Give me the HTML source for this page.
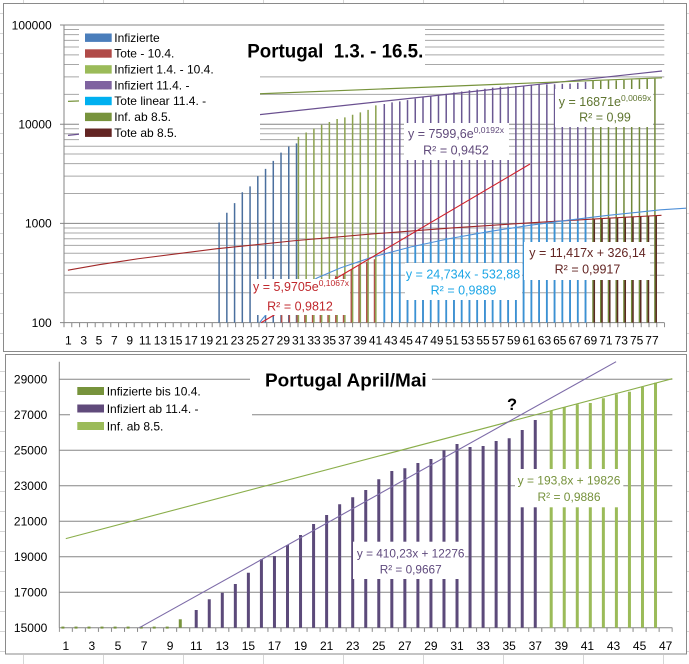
<!DOCTYPE html>
<html><head><meta charset="utf-8"><style>
html,body{margin:0;padding:0;background:#fff;}
svg{display:block;}
text{font-family:"Liberation Sans",Arial,sans-serif;}
</style></head><body>
<svg width="689" height="664" viewBox="0 0 689 664" xmlns="http://www.w3.org/2000/svg">
<defs>
<pattern id="tk1" x="63.5" y="0" width="7.8" height="20" patternUnits="userSpaceOnUse"><rect x="0" y="0" width="1" height="20" fill="#868686"/></pattern>
<pattern id="tk2" x="58.8" y="0" width="13.04" height="20" patternUnits="userSpaceOnUse"><rect x="0" y="0" width="1" height="20" fill="#868686"/></pattern>
</defs>
<rect x="0" y="0" width="689" height="664" fill="#fff"/>
<!-- spreadsheet grid -->
<path d="M23.5 0V3M103.5 0V3M183.5 0V3M263.5 0V3M343.5 0V3M423.5 0V3M503.5 0V3M583.5 0V3M663.5 0V3M23.5 655V664M103.5 655V664M183.5 655V664M263.5 655V664M343.5 655V664M423.5 655V664M503.5 655V664M583.5 655V664M663.5 655V664
M0 13.5H3M0 33.5H3M0 53.5H3M0 73.5H3M0 93.5H3M0 113.5H3M0 133.5H3M0 153.5H3M0 173.5H3M0 193.5H3M0 213.5H3M0 233.5H3M0 253.5H3M0 273.5H3M0 293.5H3M0 313.5H3M0 333.5H3M0 371.5H5M0 391.5H5M0 411.5H5M0 431.5H5M0 451.5H5M0 471.5H5M0 491.5H5M0 511.5H5M0 531.5H5M0 551.5H5M0 571.5H5M0 591.5H5M0 611.5H5M0 631.5H5M0 651.5H5
M687 13.5H689M687 33.5H689M687 53.5H689M687 73.5H689M687 93.5H689M687 113.5H689M687 133.5H689M687 153.5H689M687 173.5H689M687 193.5H689M687 213.5H689M687 233.5H689M687 253.5H689M687 273.5H689M687 293.5H689M687 313.5H689M687 333.5H689M687 371.5H689M687 391.5H689M687 411.5H689M687 431.5H689M687 451.5H689M687 471.5H689M687 491.5H689M687 511.5H689M687 531.5H689M687 551.5H689M687 571.5H689M687 591.5H689M687 611.5H689M687 631.5H689M687 651.5H689" stroke="#D6D6D6" stroke-width="1" fill="none"/>

<!-- ================= TOP CHART ================= -->
<rect x="3.5" y="3.5" width="683" height="348" fill="#fff" stroke="#8A8A8A" stroke-width="1"/>
<path d="M64 292.74H664.3M64 275.27H664.3M64 262.88H664.3M64 253.26H664.3M64 245.41H664.3M64 238.77H664.3M64 233.01H664.3M64 227.94H664.3M64 193.54H664.3M64 176.07H664.3M64 163.68H664.3M64 154.06H664.3M64 146.21H664.3M64 139.57H664.3M64 133.81H664.3M64 128.74H664.3M64 94.34H664.3M64 76.87H664.3M64 64.48H664.3M64 54.86H664.3M64 47.01H664.3M64 40.37H664.3M64 34.61H664.3M64 29.54H664.3" stroke="#A8A8A8" stroke-width="1" fill="none"/>
<path d="M60 25H664.3M60 124.2H664.3M60 223.4H664.3M60 322.6H664.3" stroke="#868686" stroke-width="1" fill="none"/>
<path d="M64 25V322.6" stroke="#868686" stroke-width="1"/>
<rect x="63.5" y="322.6" width="601.6" height="4.6" fill="url(#tk1)"/>

<!-- bars -->
<path d="M219.1 322.6V222.55M226.84 322.6V212.76M234.58 322.6V203.15M242.32 322.6V192.26M250.06 322.6V186.37M257.8 322.6V176.14M265.54 322.6V168.89M273.28 322.6V160.88M281.02 322.6V152.62M288.76 322.6V146.48M296.5 322.6V143.37" stroke="#4A6F9E" stroke-width="1.5" fill="none"/>
<path d="M281.64 322.6V315.11M289.38 322.6V308.1M297.12 322.6V302.35M304.86 322.6V295.63M312.6 322.6V290.84M320.34 322.6V283.82M328.08 322.6V280.45M335.82 322.6V275.99M343.56 322.6V273.72M351.3 322.6V269.25M359.04 322.6V265.09M366.78 322.6V261.92M374.52 322.6V259.26" stroke="#B0504A" stroke-width="1.5" fill="none"/>
<path d="M298.42 322.6V136.92M306.16 322.6V132.48M313.9 322.6V128.58M321.64 322.6V124.69M329.38 322.6V122M337.12 322.6V119.02M344.86 322.6V117.33M352.6 322.6V114.79M360.34 322.6V112.43M368.08 322.6V109.84M375.82 322.6V105.4" stroke="#8BA14E" stroke-width="1.5" fill="none"/>
<path d="M384.3 322.6V103.96M392.04 322.6V102.37M399.78 322.6V101.41M407.52 322.6V100.18M415.26 322.6V98.64M423 322.6V96.88M430.74 322.6V96.45M438.48 322.6V95.07M446.22 322.6V93.86M453.96 322.6V92.55M461.7 322.6V91.52M469.44 322.6V90.29M477.18 322.6V89.55M484.92 322.6V88.77M492.66 322.6V87.64M500.4 322.6V86.79M508.14 322.6V86.51M515.88 322.6V85.98M523.62 322.6V85.58M531.36 322.6V84.73M539.1 322.6V84.12M546.84 322.6V84.41M554.58 322.6V84.31M562.32 322.6V83.83M570.06 322.6V83.58M577.8 322.6V82.8M585.54 322.6V81.88" stroke="#6A5892" stroke-width="1.5" fill="none"/>
<path d="M384.3 322.6V255.93M392.04 322.6V252.92M399.78 322.6V250.35M407.52 322.6V247.84M415.26 322.6V245.48M423 322.6V243.37M430.74 322.6V241.5M438.48 322.6V239.57M446.22 322.6V237.91M453.96 322.6V236.66M461.7 322.6V235.11M469.44 322.6V233.83M477.18 322.6V231.95M484.92 322.6V230.2M492.66 322.6V228.91M500.4 322.6V227.8M508.14 322.6V226.62M515.88 322.6V225.7M523.62 322.6V224.58M531.36 322.6V223.88M539.1 322.6V223.1M546.84 322.6V222.42M554.58 322.6V221.59M562.32 322.6V220.77M570.06 322.6V220.32M577.8 322.6V219.73M585.54 322.6V219.1" stroke="#3A92D4" stroke-width="1.8" fill="none"/>
<path d="M593 322.6V81.04M600.74 322.6V80.71M608.48 322.6V80.47M616.22 322.6V80.36M623.96 322.6V79.95M631.7 322.6V79.6M639.44 322.6V79.38M647.18 322.6V78.98M654.92 322.6V78.62" stroke="#71893A" stroke-width="1.5" fill="none"/>
<path d="M594.3 322.6V218.75M602.04 322.6V218.29M609.78 322.6V217.94M617.52 322.6V217.6M625.26 322.6V216.89M633 322.6V216.45M640.74 322.6V216.12M648.48 322.6V215.91M656.22 322.6V215.44" stroke="#5A2A22" stroke-width="1.5" fill="none"/>

<!-- trendlines -->
<polyline points="67.9,270.19 99.1,264.72 138.1,258.74 216.1,248.81 294.1,240.74 372.1,233.95 450.1,228.09 528.1,222.92 606.1,218.31 661.5,215.3" fill="none" stroke="#A02828" stroke-width="1.1"/>
<polyline points="259.7,322.6 261.34,320.39 262.9,318.41 266.8,313.83 270.7,309.69 278.5,302.44 286.3,296.23 294.1,290.81 317.5,277.73 340.9,267.71 372.1,257.18 411.1,246.85 450.1,238.52 489.1,231.55 528.1,225.55 567.1,220.29 606.1,215.6 660.7,209.79 686,208.2" fill="none" stroke="#4F90D8" stroke-width="1.1"/>
<line x1="261.2" y1="322.6" x2="530" y2="164" stroke="#D0202A" stroke-width="1.1"/>
<line x1="68" y1="135.4" x2="662" y2="71" stroke="#6A5090" stroke-width="1.2"/>
<line x1="68" y1="101.4" x2="662" y2="77.8" stroke="#77933C" stroke-width="1.2"/>

<!-- legend & title boxes -->
<rect x="79" y="27" width="181" height="115" fill="#fff"/>
<rect x="79" y="27" width="346" height="45" fill="#fff"/>
<rect x="85" y="33.5" width="26.7" height="8.4" fill="#4A7EBB"/>
<rect x="85" y="49.3" width="26.7" height="8.4" fill="#B04A48"/>
<rect x="85" y="65.2" width="26.7" height="8.4" fill="#9BBB59"/>
<rect x="85" y="81" width="26.7" height="8.4" fill="#7F63A0"/>
<rect x="85" y="96.8" width="26.7" height="8.4" fill="#00B0F0"/>
<rect x="85" y="112.7" width="26.7" height="8.4" fill="#77933C"/>
<rect x="85" y="128.5" width="26.7" height="8.4" fill="#632523"/>
<g font-size="12" fill="#000">
<text x="114.3" y="41.9">Infizierte</text>
<text x="114.3" y="57.7">Tote - 10.4.</text>
<text x="114.3" y="73.6">Infiziert 1.4. - 10.4.</text>
<text x="114.3" y="89.4">Infiziert 11.4. -</text>
<text x="114.3" y="105.2">Tote linear 11.4. -</text>
<text x="114.3" y="121.1">Inf. ab 8.5.</text>
<text x="114.3" y="136.9">Tote ab 8.5.</text>
</g>
<text x="247.3" y="57.7" font-size="19.3" font-weight="bold" fill="#000" textLength="176" lengthAdjust="spacingAndGlyphs">Portugal&#160;&#160;1.3. - 16.5.</text>

<!-- trendline labels -->
<rect x="404" y="123" width="105" height="37" fill="#fff"/>
<text x="456" y="137.8" text-anchor="middle" font-size="12.5" fill="#604A7B">y = 7599,6e<tspan font-size="8.5" dy="-5">0,0192x</tspan></text>
<text x="456" y="154.5" text-anchor="middle" font-size="12.5" fill="#604A7B">R² = 0,9452</text>

<rect x="555" y="89" width="98" height="38" fill="#fff"/>
<text x="605" y="106" text-anchor="middle" font-size="12.5" fill="#5F7530">y = 16871e<tspan font-size="8.5" dy="-5">0,0069x</tspan></text>
<text x="605" y="121.7" text-anchor="middle" font-size="12.5" fill="#5F7530">R² = 0,99</text>

<rect x="251" y="279" width="99" height="36" fill="#fff"/>
<text x="301" y="291" text-anchor="middle" font-size="12.5" fill="#C0282D">y = 5,9705e<tspan font-size="8.5" dy="-5">0,1067x</tspan></text>
<text x="300" y="310.4" text-anchor="middle" font-size="12.5" fill="#C0282D">R² = 0,9812</text>

<rect x="405" y="263" width="117" height="37" fill="#fff"/>
<text x="463" y="278.4" text-anchor="middle" font-size="12.5" fill="#1DA6E6">y = 24,734x - 532,88</text>
<text x="463.5" y="294.4" text-anchor="middle" font-size="12.5" fill="#1DA6E6">R² = 0,9889</text>

<rect x="524" y="242" width="126" height="38" fill="#fff"/>
<text x="587.5" y="257" text-anchor="middle" font-size="12.5" fill="#632523">y = 11,417x + 326,14</text>
<text x="587.5" y="273.4" text-anchor="middle" font-size="12.5" fill="#632523">R² = 0,9917</text>

<g font-size="12" fill="#000" text-anchor="end">
<text x="51.7" y="29.3">100000</text>
<text x="51.7" y="128.5">10000</text>
<text x="51.7" y="227.7">1000</text>
<text x="51.7" y="326.9">100</text>
</g>
<g font-size="12" fill="#000" text-anchor="middle">
<text x="68.3" y="344.3">1</text><text x="83.66" y="344.3">3</text><text x="99.02" y="344.3">5</text><text x="114.38" y="344.3">7</text><text x="129.74" y="344.3">9</text><text x="145.1" y="344.3">11</text><text x="160.46" y="344.3">13</text><text x="175.82" y="344.3">15</text><text x="191.18" y="344.3">17</text><text x="206.54" y="344.3">19</text><text x="221.9" y="344.3">21</text><text x="237.26" y="344.3">23</text><text x="252.62" y="344.3">25</text><text x="267.98" y="344.3">27</text><text x="283.34" y="344.3">29</text><text x="298.7" y="344.3">31</text><text x="314.06" y="344.3">33</text><text x="329.42" y="344.3">35</text><text x="344.78" y="344.3">37</text><text x="360.14" y="344.3">39</text><text x="375.5" y="344.3">41</text><text x="390.86" y="344.3">43</text><text x="406.22" y="344.3">45</text><text x="421.58" y="344.3">47</text><text x="436.94" y="344.3">49</text><text x="452.3" y="344.3">51</text><text x="467.66" y="344.3">53</text><text x="483.02" y="344.3">55</text><text x="498.38" y="344.3">57</text><text x="513.74" y="344.3">59</text><text x="529.1" y="344.3">61</text><text x="544.46" y="344.3">63</text><text x="559.82" y="344.3">65</text><text x="575.18" y="344.3">67</text><text x="590.54" y="344.3">69</text><text x="605.9" y="344.3">71</text><text x="621.26" y="344.3">73</text><text x="636.62" y="344.3">75</text><text x="651.98" y="344.3">77</text>
</g>

<!-- ================= BOTTOM CHART ================= -->
<rect x="5.5" y="354.5" width="681" height="299.5" fill="#fff" stroke="#8A8A8A" stroke-width="1"/>
<path d="M59.3 592.2H672.3M59.3 556.7H672.3M59.3 521.3H672.3M59.3 485.8H672.3M59.3 450.3H672.3M59.3 414.8H672.3M59.3 379.3H672.3M59.3 627.7H672.3M59.3 361.7V627.7" stroke="#868686" stroke-width="1" fill="none"/>
<rect x="58.8" y="627.7" width="613.9" height="4.2" fill="url(#tk2)"/>

<g fill="#77933C">
<rect x="61.4" y="626.6" width="3" height="2"/><rect x="74.5" y="626.6" width="3" height="2"/><rect x="87.5" y="626.6" width="3" height="2"/><rect x="100.5" y="626.6" width="3" height="2"/><rect x="113.6" y="626.6" width="3" height="2"/><rect x="126.6" y="626.6" width="3" height="2"/><rect x="139.7" y="626.6" width="3" height="2"/><rect x="152.7" y="626.6" width="3" height="2"/><rect x="165.7" y="626.6" width="3" height="2"/>
</g>
<path d="M180.28 627.7V619.3" stroke="#77933C" stroke-width="3"/>
<path d="M196.22 627.7V610M209.26 627.7V599.3M222.3 627.7V592.7M235.34 627.7V584M248.38 627.7V572.7M261.42 627.7V559.3M274.46 627.7V556M287.5 627.7V545M300.54 627.7V535M313.58 627.7V524M326.62 627.7V515M339.66 627.7V504.2M352.7 627.7V497.3M365.74 627.7V490M378.78 627.7V479.3M391.82 627.7V471M404.86 627.7V468.3M417.9 627.7V463M430.94 627.7V459M443.98 627.7V450.3M457.02 627.7V444M470.06 627.7V447M483.1 627.7V446M496.14 627.7V441M509.18 627.7V438.3M522.22 627.7V430M535.26 627.7V420" stroke="#5C4A7A" stroke-width="3" fill="none"/>
<path d="M551.2 627.7V410.7M564.24 627.7V407M577.28 627.7V404.3M590.32 627.7V403M603.36 627.7V398.3M616.4 627.7V394.3M629.44 627.7V391.7M642.48 627.7V387M655.52 627.7V382.7" stroke="#9BBB59" stroke-width="3" fill="none"/>

<line x1="65.8" y1="538.6" x2="672.3" y2="378.7" stroke="#8AAE4A" stroke-width="1.1"/>
<line x1="139.4" y1="627.7" x2="616.1" y2="361.7" stroke="#7D6BA8" stroke-width="1.1"/>

<rect x="250" y="368" width="182" height="28" fill="#fff"/>
<text x="265" y="386.7" font-size="18.7" font-weight="bold" fill="#000" textLength="161.7" lengthAdjust="spacingAndGlyphs">Portugal April/Mai</text>
<rect x="70" y="382" width="182" height="58" fill="#fff"/>
<rect x="77.3" y="387" width="26.7" height="8" fill="#77933C"/>
<rect x="77.3" y="404.5" width="26.7" height="8" fill="#604A7B"/>
<rect x="77.3" y="422" width="26.7" height="8" fill="#9BBB59"/>
<g font-size="12" fill="#000">
<text x="106.7" y="395.3">Infizierte bis 10.4.</text>
<text x="106.7" y="412.8">Infiziert ab 11.4. -</text>
<text x="106.7" y="430.3">Inf. ab 8.5.</text>
</g>
<text x="512" y="410" text-anchor="middle" font-size="16.5" font-weight="bold" fill="#000">?</text>

<rect x="353" y="541.7" width="112" height="37.3" fill="#fff"/>
<text x="410.7" y="557.7" text-anchor="middle" font-size="11.8" fill="#5F4A7D">y = 410,23x + 12276</text>
<text x="410.7" y="573.7" text-anchor="middle" font-size="11.8" fill="#5F4A7D">R² = 0,9667</text>
<rect x="515" y="469" width="108.3" height="38.3" fill="#fff"/>
<text x="569" y="484.4" text-anchor="middle" font-size="12" fill="#76923C">y = 193,8x + 19826</text>
<text x="569" y="501" text-anchor="middle" font-size="12" fill="#76923C">R² = 0,9886</text>

<g font-size="12" fill="#000" text-anchor="end">
<text x="47.3" y="383.6">29000</text>
<text x="47.3" y="419.1">27000</text>
<text x="47.3" y="454.6">25000</text>
<text x="47.3" y="490.1">23000</text>
<text x="47.3" y="525.6">21000</text>
<text x="47.3" y="561">19000</text>
<text x="47.3" y="596.5">17000</text>
<text x="47.3" y="632">15000</text>
</g>
<g font-size="12" fill="#000" text-anchor="middle">
<text x="65.82" y="650">1</text><text x="91.9" y="650">3</text><text x="117.98" y="650">5</text><text x="144.06" y="650">7</text><text x="170.14" y="650">9</text><text x="196.22" y="650">11</text><text x="222.3" y="650">13</text><text x="248.38" y="650">15</text><text x="274.46" y="650">17</text><text x="300.54" y="650">19</text><text x="326.62" y="650">21</text><text x="352.7" y="650">23</text><text x="378.78" y="650">25</text><text x="404.86" y="650">27</text><text x="430.94" y="650">29</text><text x="457.02" y="650">31</text><text x="483.1" y="650">33</text><text x="509.18" y="650">35</text><text x="535.26" y="650">37</text><text x="561.34" y="650">39</text><text x="587.42" y="650">41</text><text x="613.5" y="650">43</text><text x="639.58" y="650">45</text><text x="665.66" y="650">47</text>
</g>
</svg>
</body></html>
